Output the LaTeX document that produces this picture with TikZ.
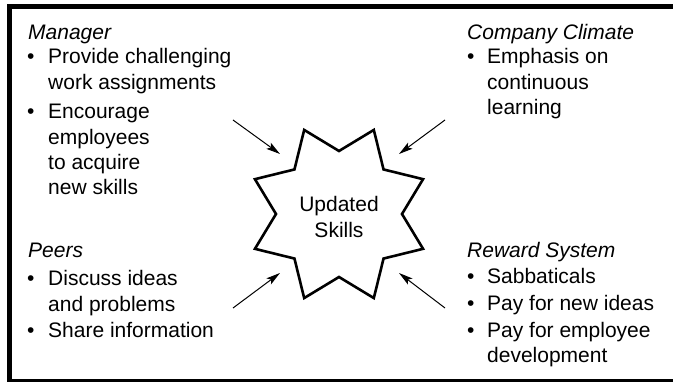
\documentclass[tikz,border=0pt]{standalone}
\usepackage{fontspec}
\setmainfont{Liberation Sans}
\usetikzlibrary{arrows.meta}
\begin{document}
\begin{tikzpicture}[x=1pt,y=-1pt,
  txt/.style={anchor=base west,inner sep=0pt,font=\fontsize{21}{25}\selectfont},
  head/.style={txt,font=\fontsize{21}{25}\selectfont\itshape},
  ctr/.style={anchor=base,inner sep=0pt,font=\fontsize{21}{25}\selectfont},
  arr/.style={line width=1pt,-{Stealth[length=14pt,width=7.5pt,inset=3pt]}},
  starline/.style={line width=2.6pt,line join=miter}]
\useasboundingbox (0,0) rectangle (673,382);
\begin{scope}
\clip (0,0) rectangle (673,382);
\draw[line width=5pt] (9.5,7) rectangle (700,381.5);
\end{scope}
% star
\begin{scope}[shift={(339,214)}]
\draw[starline] (22.5:91) -- (45:63) -- (67.5:91) -- (90:63) -- (112.5:91) -- (135:63)
  -- (157.5:91) -- (180:63) -- (202.5:91) -- (225:63) -- (247.5:91) -- (270:63)
  -- (292.5:91) -- (315:63) -- (337.5:91) -- (360:63) -- cycle;
\end{scope}
\node[ctr] (s1) at (339,212) {Updated};
\node[ctr] (s2) at (339,238) {Skills};
% arrows
\coordinate (a1s) at (233,120); \coordinate (a1e) at (280,154);
\coordinate (a2s) at (445,120); \coordinate (a2e) at (399,154);
\coordinate (a3s) at (233,308); \coordinate (a3e) at (280,273);
\coordinate (a4s) at (445,308); \coordinate (a4e) at (399,273);
\draw[arr] (a1s) -- (a1e);
\draw[arr] (a2s) -- (a2e);
\draw[arr] (a3s) -- (a3e);
\draw[arr] (a4s) -- (a4e);
% Manager
\node[head] (m0) at (28,40) {Manager};
\node[txt] (mb1) at (27,64) {•};
\node[txt] (m1) at (48,64) {Provide challenging};
\node[txt] (m2) at (48,90) {work assignments};
\node[txt] (mb2) at (27,119) {•};
\node[txt] (m3) at (48,119) {Encourage};
\node[txt] (m4) at (48,145) {employees};
\node[txt] (m5) at (48,170) {to acquire};
\node[txt] (m6) at (48,195) {new skills};
% Company Climate
\node[head] (c0) at (467,40) {Company Climate};
\node[txt] (cb1) at (467,64) {•};
\node[txt] (c1) at (487,64) {Emphasis on};
\node[txt] (c2) at (487,90) {continuous};
\node[txt] (c3) at (487,115) {learning};
% Peers
\node[head] (p0) at (28,258) {Peers};
\node[txt] (pb1) at (27,286) {•};
\node[txt] (p1) at (48,286) {Discuss ideas};
\node[txt] (p2) at (48,312) {and problems};
\node[txt] (pb2) at (27,338) {•};
\node[txt] (p3) at (48,338) {Share information};
% Reward System
\node[head] (r0) at (467,258) {Reward System};
\node[txt] (rb1) at (467,284) {•};
\node[txt] (r1) at (487,284) {Sabbaticals};
\node[txt] (rb2) at (467,311) {•};
\node[txt] (r2) at (487,311) {Pay for new ideas};
\node[txt] (rb3) at (467,338) {•};
\node[txt] (r3) at (487,338) {Pay for employee};
\node[txt] (r4) at (487,363) {development};
\end{tikzpicture}
\end{document}
